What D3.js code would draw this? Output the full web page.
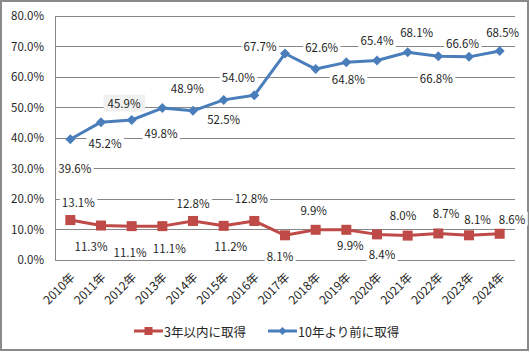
<!DOCTYPE html>
<html>
<head>
<meta charset="utf-8">
<script src="https://cdn.jsdelivr.net/npm/d3@7"></script>
<style>
  body { margin: 0; background: #fff; }
  svg text { font-family: "Noto Sans CJK JP", "Noto Sans", sans-serif; fill: #262626; }
</style>
</head>
<body>
<div id="chart"></div>
<script>
// data
var years = ["2010年","2011年","2012年","2013年","2014年","2015年","2016年","2017年",
             "2018年","2019年","2020年","2021年","2022年","2023年","2024年"];
var within3 = [13.1, 11.3, 11.1, 11.1, 12.8, 11.2, 12.8, 8.1, 9.9, 9.9, 8.4, 8.0, 8.7, 8.1, 8.6];
var before10 = [39.6, 45.2, 45.9, 49.8, 48.9, 52.5, 54.0, 67.7, 62.6, 64.8, 65.4, 68.1, 66.8, 66.6, 68.5];
var yTicks = [0, 10, 20, 30, 40, 50, 60, 70, 80];
var seriesNames = ["3年以内に取得", "10年より前に取得"];

// label nudges (layout only), [dx, dy] from the point
var redNudge = [[8,-18],[-10,20.5],[-1.6,25.6],[7,22],[0,-18.3],[7,20],[-3,-23],[-5,20.7],
                [-2,-20],[4,15],[5,20],[-4.6,-21],[7.7,-20],[8.6,-16],[12.4,-15]];
var blueNudge = [[4.5,29],[4,21],[-7.6,-17],[-1.3,25],[-5.7,-22.5],[0,19.5],[-16,-18],[-25,-8],
                 [6,-22],[2,17],[0,-20.5],[9,-20],[-2,22],[-6.5,-13.6],[3,-19]];

var width = 530, height = 352;
var red = "#be4b48", blue = "#4a7ebb", grid = "#868686";

var svg = d3.select("#chart").append("svg")
  .attr("width", width)
  .attr("height", height);

// outer frame
svg.append("rect")
  .attr("x", 1).attr("y", 1)
  .attr("width", width - 3).attr("height", height - 3)
  .attr("fill", "#fff")
  .attr("stroke", "#8a8a8a")
  .attr("stroke-width", 2);

var xScale = d3.scalePoint()
  .domain(years)
  .range([55, 515])
  .padding(0.5);

var yScale = d3.scaleLinear()
  .domain([0, 80])
  .range([260, 16]);

// gridlines
svg.append("g")
  .selectAll("line")
  .data(yTicks)
  .enter()
  .append("line")
  .attr("x1", 55).attr("x2", 515)
  .attr("y1", function(d) { return yScale(d); })
  .attr("y2", function(d) { return yScale(d); })
  .attr("stroke", grid)
  .attr("stroke-width", 1)
  .attr("shape-rendering", "crispEdges");

// y axis
var yAxis = d3.axisLeft(yScale)
  .tickValues(yTicks)
  .tickSize(0)
  .tickPadding(11)
  .tickFormat(function(d) { return d3.format(".1f")(d) + "%"; });

var yg = svg.append("g")
  .attr("transform", "translate(55,0)")
  .call(yAxis);
yg.select(".domain").attr("stroke", grid).attr("shape-rendering", "crispEdges");
yg.selectAll("text").style("font-size", "11.5px").attr("fill", "#1a1a1a");

// x axis
var xAxis = d3.axisBottom(xScale).tickSize(0).tickPadding(0);
var xg = svg.append("g")
  .attr("transform", "translate(0,260)")
  .call(xAxis);
xg.select(".domain").attr("stroke", grid).attr("d", "M55,0H515").attr("shape-rendering", "crispEdges");
xg.selectAll("text")
  .style("font-size", "12px")
  .attr("fill", "#1a1a1a")
  .attr("text-anchor", "end")
  .attr("dy", null)
  .attr("y", 0)
  .attr("transform", "translate(5,18) rotate(-45)");

// lines
function drawSeries(values, color) {
  var line = d3.line()
    .x(function(d, i) { return xScale(years[i]); })
    .y(function(d) { return yScale(d); });
  svg.append("path")
    .attr("d", line(values))
    .attr("fill", "none")
    .attr("stroke", color)
    .attr("stroke-width", 3)
    .attr("stroke-linejoin", "round");
}
drawSeries(within3, red);
drawSeries(before10, blue);

// markers
svg.append("g").selectAll("rect")
  .data(within3)
  .enter()
  .append("rect")
  .attr("x", function(d, i) { return xScale(years[i]) - 5; })
  .attr("y", function(d) { return yScale(d) - 5; })
  .attr("width", 10).attr("height", 10)
  .attr("fill", red);

svg.append("g").selectAll("path")
  .data(before10)
  .enter()
  .append("path")
  .attr("d", "M0,-5L5,0L0,5L-5,0Z")
  .attr("transform", function(d, i) { return "translate(" + xScale(years[i]) + "," + yScale(d) + ")"; })
  .attr("fill", blue);

// data labels with white boxes behind them
function drawLabels(values, nudge) {
  var g = svg.append("g");
  values.forEach(function(v, i) {
    var cx = xScale(years[i]) + nudge[i][0];
    var cy = yScale(v) + nudge[i][1];
    var lg = g.append("g").attr("transform", "translate(" + cx + "," + cy + ")");
    var box = lg.append("rect").attr("fill", "#fff");
    var t = lg.append("text")
      .attr("text-anchor", "middle")
      .attr("dominant-baseline", "central")
      .style("font-size", "11.5px")
      .attr("fill", "#1a1a1a")
      .text(d3.format(".1f")(v) + "%");
    var bb = t.node().getBBox();
    box.attr("x", bb.x - 2).attr("y", -7).attr("width", bb.width + 4).attr("height", 14);
    // the 45.9% label sits on a grey box in the original
    if (values === before10 && i === 2) {
      box.attr("fill", "#f0f0f0").attr("x", bb.x - 4).attr("y", -8.5)
        .attr("width", bb.width + 8).attr("height", 17);
    }
  });
}
drawLabels(within3, redNudge);
drawLabels(before10, blueNudge);

// legend
var legend = svg.append("g").attr("transform", "translate(0,331)");
var red_leg = legend.append("g").attr("transform", "translate(134,0)");
red_leg.append("line").attr("x1", 0).attr("x2", 29).attr("stroke", red).attr("stroke-width", 3);
red_leg.append("rect").attr("x", 10.5).attr("y", -4).attr("width", 8).attr("height", 8).attr("fill", red);
red_leg.append("text").attr("x", 30).attr("dominant-baseline", "central")
  .style("font-size", "12.5px").attr("fill", "#404040").text(seriesNames[0]);

var blue_leg = legend.append("g").attr("transform", "translate(268,0)");
blue_leg.append("line").attr("x1", 0).attr("x2", 29).attr("stroke", blue).attr("stroke-width", 3);
blue_leg.append("path").attr("d", "M14.5,-4L18.5,0L14.5,4L10.5,0Z").attr("fill", blue);
blue_leg.append("text").attr("x", 30).attr("dominant-baseline", "central")
  .style("font-size", "12.5px").attr("fill", "#404040").text(seriesNames[1]);
</script>
</body>
</html>
